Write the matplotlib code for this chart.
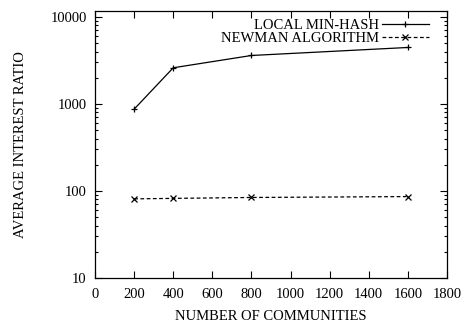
import numpy as np
import matplotlib
matplotlib.use("Agg")
import matplotlib.pyplot as plt
from matplotlib.ticker import LogLocator, NullFormatter, FixedLocator

plt.rcParams['font.family'] = ['Liberation Serif', 'DejaVu Serif']

communities = [200, 400, 800, 1600]
minhash = [870, 2600, 3600, 4450]
newman = [81, 82, 84, 86]

fig = plt.figure(figsize=(4.66, 3.22), dpi=100)
ax = fig.add_axes([0.204, 0.137, 0.755, 0.829])

ax.plot(communities, minhash, color='black', lw=0.9, marker='+', ms=5,
        mew=0.9, label='LOCAL MIN-HASH')
ax.plot(communities, newman, color='black', lw=0.9, ls=(0, (3, 2)),
        marker='x', ms=4, mew=0.9, label='NEWMAN ALGORITHM')

ax.set_yscale('log')
ax.set_xlim(0, 1800)
ax.set_ylim(10, 11700)
ax.set_xticks(np.arange(0, 1801, 200))
ax.yaxis.set_major_locator(FixedLocator([10, 100, 1000, 10000]))
ax.set_yticklabels(['10', '100', '1000', '10000'])
ax.yaxis.set_minor_locator(LogLocator(base=10, subs=np.arange(2, 10)))
ax.yaxis.set_minor_formatter(NullFormatter())

ax.tick_params(axis='both', which='both', direction='in', top=True,
               right=True, labelsize=10.5, width=0.8)
ax.tick_params(axis='y', pad=6)
ax.tick_params(axis='x', pad=7)
ax.tick_params(which='major', length=5)
ax.tick_params(which='minor', length=2.5)
for s in ax.spines.values():
    s.set_linewidth(0.9)

ax.set_xlabel('NUMBER OF COMMUNITIES', fontsize=10.5, labelpad=7)
ax.set_ylabel('AVERAGE INTEREST RATIO', fontsize=10.5, labelpad=17)

ax.legend(loc='upper right', bbox_to_anchor=(0.977, 1.008), frameon=False,
          markerfirst=False, fontsize=10.5, handlelength=3.2,
          borderaxespad=0.3, labelspacing=0.0, handletextpad=0.2)

fig.savefig('out.png', dpi=100)
